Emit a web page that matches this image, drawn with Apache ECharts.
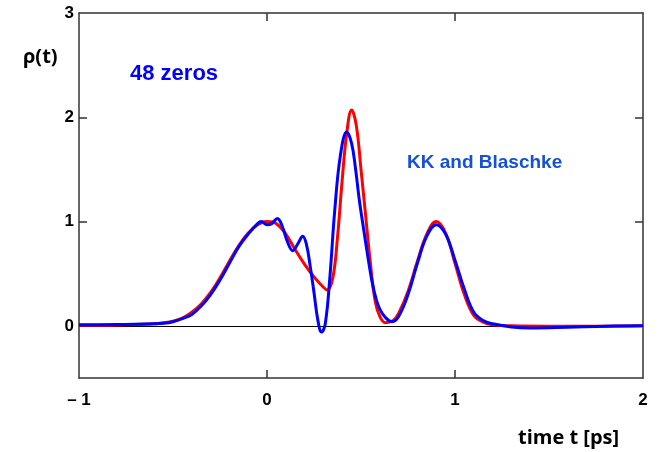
<!DOCTYPE html>
<html>
<head>
<meta charset="utf-8">
<script src="https://cdn.jsdelivr.net/npm/echarts@6/dist/echarts.min.js"></script>
<style>
html,body{margin:0;padding:0;background:#fff;}
#chart{width:662px;height:452px;}
</style>
</head>
<body>
<div id="chart"></div>
<script>
// ---- data ----
const tRed = [-1.0,-0.8,-0.6,-0.55,-0.5,-0.45,-0.4,-0.35,-0.3,-0.25,-0.2,-0.15,-0.1,-0.05,0.0,0.05,0.1,0.15,0.2,0.25,0.3,0.32,0.35,0.375,0.4,0.425,0.45,0.475,0.5,0.525,0.55,0.575,0.6,0.63,0.67,0.7,0.75,0.8,0.85,0.9,0.95,1.0,1.05,1.1,1.15,1.2,1.3,1.5,1.8,2.0];
const rhoRed = [0.005,0.008,0.02,0.03,0.045,0.075,0.13,0.21,0.32,0.46,0.62,0.77,0.89,0.97,1.0,0.98,0.88,0.73,0.59,0.47,0.37,0.345,0.46,0.85,1.4,1.86,2.07,1.92,1.5,1.05,0.6,0.24,0.09,0.03,0.05,0.12,0.33,0.62,0.88,1.0,0.89,0.6,0.3,0.1,0.035,0.01,0.0,-0.003,-0.003,0.0];
const tBlue = [-1.0,-0.8,-0.6,-0.55,-0.5,-0.45,-0.4,-0.35,-0.3,-0.25,-0.2,-0.15,-0.1,-0.05,-0.03,0.0,0.025,0.055,0.08,0.11,0.137,0.165,0.19,0.21,0.23,0.25,0.27,0.29,0.31,0.335,0.36,0.39,0.424,0.45,0.47,0.49,0.512,0.535,0.557,0.58,0.6,0.63,0.665,0.7,0.75,0.8,0.85,0.9,0.95,1.0,1.05,1.1,1.15,1.2,1.3,1.4,1.6,1.8,2.0];
const rhoBlue = [0.01,0.012,0.02,0.025,0.04,0.07,0.11,0.19,0.3,0.44,0.6,0.76,0.88,0.98,1.0,0.97,0.98,1.03,0.96,0.8,0.72,0.79,0.86,0.78,0.57,0.32,0.06,-0.06,0.02,0.48,1.1,1.63,1.86,1.75,1.52,1.22,0.95,0.68,0.44,0.26,0.16,0.08,0.04,0.09,0.3,0.6,0.86,0.97,0.88,0.63,0.35,0.13,0.05,0.02,-0.01,-0.02,-0.013,-0.003,0.0];
const xTickValues = [-1,0,1,2];
const yLabelValues = [0,1,2,3];
const yTickValues = [1,2];
const xInnerTicks = [0,1];

const pair = (ts, ys) => ts.map((t,i)=>[t, ys[i]]);

const chart = echarts.init(document.getElementById('chart'), null, {renderer:'canvas'});
const FONT = 'Liberation Sans';
const frame = {show:true, lineStyle:{color:'#333', width:1.5}};
const tickStyle = {color:'#333', width:1.5};
chart.setOption({
  animation:false,
  backgroundColor:'#fff',
  grid:{left:79, right:19, top:13, bottom:74, containLabel:false},
  xAxis:[{
    type:'value', min:-1, max:2, interval:1, position:'bottom',
    axisLine:Object.assign({onZero:false}, frame),
    axisTick:{show:true, inside:true, length:8, customValues:xInnerTicks, lineStyle:tickStyle},
    axisLabel:{show:true, customValues:xTickValues, margin:14, fontFamily:FONT, fontWeight:'bold', fontSize:17, color:'#000',
      formatter:v => v < 0 ? '\u2013 ' + Math.abs(v) : String(v)},
    splitLine:{show:false}
  },{
    type:'value', min:-1, max:2, interval:1, position:'top',
    axisLine:Object.assign({onZero:false}, frame),
    axisTick:{show:true, inside:true, length:8, customValues:xInnerTicks, lineStyle:tickStyle},
    axisLabel:{show:false}, splitLine:{show:false}
  }],
  yAxis:[{
    type:'value', min:-0.5, max:3, position:'left',
    axisLine:Object.assign({onZero:false}, frame),
    axisTick:{show:true, inside:true, length:8, customValues:yTickValues, lineStyle:tickStyle},
    axisLabel:{show:true, customValues:yLabelValues, margin:5, fontFamily:FONT, fontWeight:'bold', fontSize:17, color:'#000'},
    splitLine:{show:false}
  },{
    type:'value', min:-0.5, max:3, position:'right',
    axisLine:Object.assign({onZero:false}, frame),
    axisTick:{show:true, inside:true, length:8, customValues:yTickValues, lineStyle:tickStyle},
    axisLabel:{show:false}, splitLine:{show:false}
  }],
  series:[{
    type:'line', name:'original', data:pair(tRed, rhoRed), smooth:0.4, showSymbol:false, symbol:'none',
    lineStyle:{color:'#ff0000', width:3}, z:3,
    markLine:{silent:true, symbol:['none','none'], label:{show:false},
      lineStyle:{color:'#000', width:1, type:'solid'}, data:[{yAxis:0}], z:1}
  },{
    type:'line', name:'KK and Blaschke', data:pair(tBlue, rhoBlue), smooth:0.4, showSymbol:false, symbol:'none',
    lineStyle:{color:'#0000ff', width:3}, z:4
  }],
  graphic:[
    {type:'text', x:23, y:57, style:{text:'\u03c1(t)', font:'bold 20px "Open Sans"', fill:'#000', verticalAlign:'middle'}},
    {type:'text', x:130, y:74, style:{text:'48 zeros', font:'bold 22px "Liberation Sans"', fill:'#0000ff', verticalAlign:'middle'}},
    {type:'text', x:407, y:163, style:{text:'KK and Blaschke', font:'bold 19px "Liberation Sans"', fill:'#1450d8', verticalAlign:'middle'}},
    {type:'text', x:518, y:438, style:{text:'time t [ps]', font:'bold 20px "Open Sans"', fill:'#000', verticalAlign:'middle'}}
  ]
});
</script>
</body>
</html>
